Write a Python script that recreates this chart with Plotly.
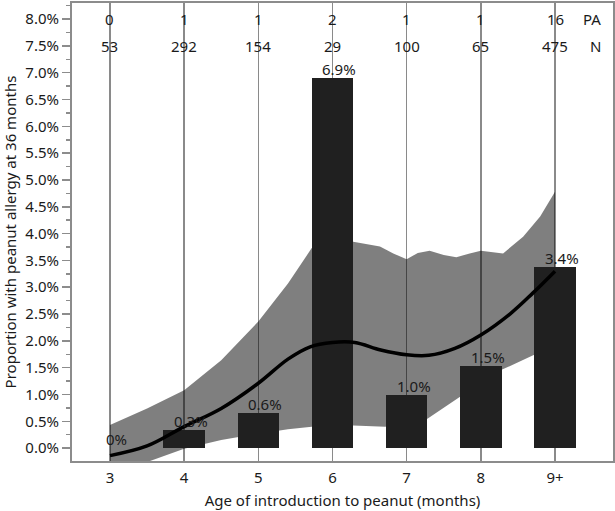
import plotly.graph_objects as go

# ---- data ----
categories = ["3", "4", "5", "6", "7", "8", "9+"]
cat_pos = [3, 4, 5, 6, 7, 8, 9]
pa_counts = [0, 1, 1, 2, 1, 1, 16]
n_counts = [53, 292, 154, 29, 100, 65, 475]
pct_values = [0.0, 0.34, 0.65, 6.90, 1.00, 1.54, 3.37]
pct_labels = ["0%", "0.3%", "0.6%", "6.9%", "1.0%", "1.5%", "3.4%"]

curve_x = [3.0, 3.5, 4.0, 4.5, 5.0, 5.4, 5.7, 6.0, 6.3, 6.65, 7.0, 7.3, 7.65, 8.0, 8.4, 8.7, 9.0]
curve_y = [-0.14, 0.04, 0.40, 0.74, 1.21, 1.66, 1.89, 1.97, 1.97, 1.83, 1.74, 1.73, 1.86, 2.11, 2.51, 2.89, 3.30]

upper_x = [3.0, 3.5, 4.0, 4.5, 5.0, 5.4, 5.72, 6.0, 6.28, 6.46, 6.64, 6.82, 7.0, 7.15, 7.31, 7.5, 7.67, 7.85, 8.0, 8.3, 8.57, 8.8, 9.0]
upper_y = [0.43, 0.74, 1.08, 1.64, 2.36, 3.07, 3.73, 3.83, 3.85, 3.81, 3.76, 3.63, 3.52, 3.64, 3.68, 3.60, 3.56, 3.63, 3.68, 3.63, 3.94, 4.32, 4.78]
lower_x = [3.0, 3.54, 4.0, 4.5, 5.0, 5.4, 5.72, 6.28, 6.71, 7.0, 7.28, 7.72, 8.0, 8.28, 8.72, 9.0]
lower_y = [-0.50, -0.24, -0.01, 0.15, 0.27, 0.35, 0.40, 0.42, 0.40, 0.48, 0.55, 0.96, 1.22, 1.46, 1.74, 1.95]

FONT = "Noto Sans, Open Sans, DejaVu Sans, sans-serif"
FS = 15
TXT = "#1a1a1a"
GRAY = "#8c8c8c"
XR = [2.488, 9.782]
YR = [-0.24, 8.30]

fig = go.Figure()

# confidence band (main subplot)
fig.add_trace(go.Scatter(
    x=upper_x + lower_x[::-1], y=upper_y + lower_y[::-1],
    fill="toself", fillcolor="rgba(0,0,0,0.5)", line=dict(width=0),
    mode="lines", hoverinfo="skip", showlegend=False, xaxis="x", yaxis="y"))

# bars (overlay subplot 2)
fig.add_trace(go.Bar(
    x=cat_pos, y=pct_values, width=0.56, marker=dict(color="#202020", line=dict(width=0)),
    showlegend=False, xaxis="x2", yaxis="y2"))

# fitted curve (overlay subplot 3)
fig.add_trace(go.Scatter(
    x=curve_x, y=curve_y, mode="lines", line=dict(color="black", width=3.5, shape="spline"),
    showlegend=False, xaxis="x3", yaxis="y3"))

font = dict(family=FONT, size=FS, color=TXT)
annotations = []
for xp, val, lab in zip(cat_pos, pct_values, pct_labels):
    annotations.append(dict(x=xp, y=val, xref="x", yref="y", text=lab, showarrow=False,
                            xanchor="center", yanchor="bottom", xshift=7, yshift=-3, font=font))
for xp, pa, n in zip(cat_pos, pa_counts, n_counts):
    annotations.append(dict(x=xp, y=8.0, xref="x", yref="y", text=str(pa), showarrow=False,
                            xanchor="center", yanchor="middle", font=font))
    annotations.append(dict(x=xp, y=7.5, xref="x", yref="y", text=str(n), showarrow=False,
                            xanchor="center", yanchor="middle", font=font))
annotations.append(dict(x=0.982, y=8.0, xref="paper", yref="y", text="PA", showarrow=False,
                        xanchor="right", yanchor="middle", font=font))
annotations.append(dict(x=0.982, y=7.5, xref="paper", yref="y", text="N", showarrow=False,
                        xanchor="right", yanchor="middle", font=font))

hidden = dict(range=XR, visible=False, fixedrange=True)
fig.update_layout(
    width=615, height=511,
    margin=dict(l=72, r=2, t=3, b=50, autoexpand=False),
    paper_bgcolor="white", plot_bgcolor="white",
    font=font,
    bargap=0,
    xaxis=dict(range=XR, tickmode="array", tickvals=cat_pos, ticktext=categories,
               automargin=False,
               showgrid=True, gridcolor="#8a8a8a", gridwidth=1.5, zeroline=False,
               showline=True, linecolor=GRAY, linewidth=2, mirror=True,
               ticks="outside", ticklen=2, tickcolor="rgba(0,0,0,0)",
               tickfont=font,
               title=dict(text="Age of introduction to peanut (months)", standoff=9, font=font)),
    yaxis=dict(range=YR, tick0=0, dtick=0.5, tickformat=".1f", ticksuffix="%",
               automargin=False,
               showgrid=False, zeroline=False,
               showline=True, linecolor=GRAY, linewidth=2, mirror=True,
               ticks="outside", ticklen=8, tickwidth=1.5, tickcolor=GRAY,
               minor=dict(dtick=0.25, ticks="outside", ticklen=4, tickcolor=GRAY, tickwidth=1.5),
               tickfont=font,
               title=dict(text="Proportion with peanut allergy at 36 months", standoff=6, font=font)),
    xaxis2=dict(overlaying="x", **hidden),
    yaxis2=dict(overlaying="y", range=YR, visible=False, fixedrange=True),
    xaxis3=dict(overlaying="x", **hidden),
    yaxis3=dict(overlaying="y", range=YR, visible=False, fixedrange=True),
    annotations=annotations,
)

fig.write_html("out.html", config={"displayModeBar": False, "staticPlot": True},
               post_script="document.body.style.margin='0';document.body.style.overflow='hidden';")
